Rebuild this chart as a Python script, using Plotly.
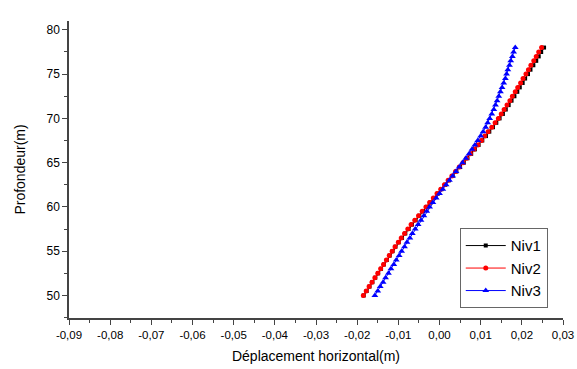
import plotly.graph_objects as go

depth = [50.0, 50.5, 51.0, 51.5, 52.0, 52.5, 53.0, 53.5, 54.0, 54.5,
         55.0, 55.5, 56.0, 56.5, 57.0, 57.5, 58.0, 58.5, 59.0, 59.5,
         60.0, 60.5, 61.0, 61.5, 62.0, 62.5, 63.0, 63.5, 64.0, 64.5,
         65.0, 65.5, 66.0, 66.5, 67.0, 67.5, 68.0, 68.5, 69.0, 69.5,
         70.0, 70.5, 71.0, 71.5, 72.0, 72.5, 73.0, 73.5, 74.0, 74.5,
         75.0, 75.5, 76.0, 76.5, 77.0, 77.5, 78.0]

niv1 = [-0.0184, -0.0177, -0.0170, -0.0163, -0.0156, -0.0149, -0.0142, -0.0135, -0.0128, -0.0121,
        -0.0114, -0.0107, -0.0099, -0.0091, -0.0083, -0.0075, -0.0067, -0.0058, -0.0049, -0.0040,
        -0.0031, -0.0022, -0.0013, -0.0004, 0.0005, 0.0014, 0.0023, 0.0032, 0.0041, 0.0050,
        0.0059, 0.0068, 0.0077, 0.0086, 0.0095, 0.0104, 0.0113, 0.0121, 0.0130, 0.0138,
        0.0146, 0.0154, 0.0161, 0.0168, 0.0175, 0.0182, 0.0189, 0.0195, 0.0202, 0.0208,
        0.0215, 0.0221, 0.0228, 0.0235, 0.0241, 0.0247, 0.0254]

niv2 = [-0.0185, -0.0178, -0.0171, -0.0164, -0.0157, -0.0150, -0.0143, -0.0136, -0.0129, -0.0122,
        -0.0115, -0.0108, -0.0100, -0.0093, -0.0085, -0.0077, -0.0069, -0.0060, -0.0051, -0.0042,
        -0.0033, -0.0024, -0.0015, -0.0006, 0.0003, 0.0012, 0.0021, 0.0030, 0.0039, 0.0048,
        0.0057, 0.0066, 0.0075, 0.0084, 0.0093, 0.0102, 0.0110, 0.0118, 0.0127, 0.0135,
        0.0143, 0.0150, 0.0157, 0.0164, 0.0171, 0.0177, 0.0184, 0.0190, 0.0197, 0.0203,
        0.0210, 0.0216, 0.0222, 0.0229, 0.0235, 0.0241, 0.0248]

niv3 = [-0.0157, -0.0150, -0.0144, -0.0137, -0.0131, -0.0124, -0.0118, -0.0111, -0.0105, -0.0098,
        -0.0092, -0.0085, -0.0079, -0.0072, -0.0066, -0.0059, -0.0052, -0.0045, -0.0038, -0.0031,
        -0.0024, -0.0016, -0.0008, 0.0000, 0.0008, 0.0016, 0.0024, 0.0032, 0.0040, 0.0048,
        0.0056, 0.0064, 0.0072, 0.0079, 0.0086, 0.0093, 0.0100, 0.0106, 0.0112, 0.0117,
        0.0122, 0.0127, 0.0132, 0.0136, 0.0140, 0.0144, 0.0148, 0.0152, 0.0156, 0.0160,
        0.0163, 0.0166, 0.0170, 0.0173, 0.0177, 0.0180, 0.0184]

x_tickvals = [-0.09, -0.08, -0.07, -0.06, -0.05, -0.04, -0.03, -0.02, -0.01, 0.0, 0.01, 0.02, 0.03]
x_ticktext = ["-0,09", "-0,08", "-0,07", "-0,06", "-0,05", "-0,04", "-0,03", "-0,02", "-0,01",
              "0,00", "0,01", "0,02", "0,03"]
y_tickvals = [50, 55, 60, 65, 70, 75, 80]
y_ticktext = ["50", "55", "60", "65", "70", "75", "80"]

font_family = "Liberation Sans, Arial, sans-serif"

fig = go.Figure()
fig.add_trace(go.Scatter(x=niv1, y=depth, name="Niv1", mode="lines+markers",
                         line=dict(color="black", width=1),
                         marker=dict(symbol="square", size=4, color="black")))
fig.add_trace(go.Scatter(x=niv2, y=depth, name="Niv2", mode="lines+markers",
                         line=dict(color="red", width=1),
                         marker=dict(symbol="circle", size=5, color="red")))
fig.add_trace(go.Scatter(x=niv3, y=depth, name="Niv3", mode="lines+markers",
                         line=dict(color="blue", width=1),
                         marker=dict(symbol="triangle-up", size=6, color="blue")))

axis_common = dict(showgrid=False, zeroline=False, showline=True, linecolor="#444",
                   linewidth=1.5, ticks="outside", ticklen=5, tickcolor="#444",
                   tickwidth=1.2, mirror=False, automargin=False)

fig.update_xaxes(range=[-0.09, 0.03], tickvals=x_tickvals, ticktext=x_ticktext,
                 tickfont=dict(size=11.5, color="black"),
                 title=dict(text="Déplacement horizontal(m)", font=dict(size=14, color="black"), standoff=12),
                 minor=dict(dtick=0.005, tick0=-0.09, ticks="outside", ticklen=3, tickcolor="#444"),
                 **axis_common)
fig.update_yaxes(range=[47.45, 81], tickvals=y_tickvals, ticktext=y_ticktext,
                 tickfont=dict(size=12, color="black"),
                 title=dict(text="Profondeur(m)", font=dict(size=14, color="black"), standoff=18),
                 minor=dict(dtick=2.5, tick0=47.5, ticks="outside", ticklen=3, tickcolor="#444"),
                 **axis_common)

fig.update_layout(
    width=577, height=369,
    margin=dict(l=69, r=14, t=21, b=51),
    paper_bgcolor="white", plot_bgcolor="white",
    font=dict(family=font_family, color="black"),
    legend=dict(x=0.791, y=0.302, xanchor="left", yanchor="top",
                bgcolor="white", bordercolor="#666", borderwidth=1,
                font=dict(size=15, color="black"), tracegroupgap=0,
                itemwidth=40),
    showlegend=True,
)

fig.write_html("out.html",
               config={"displayModeBar": False},
               post_script="document.body.style.margin='0';document.body.style.overflow='hidden';")
